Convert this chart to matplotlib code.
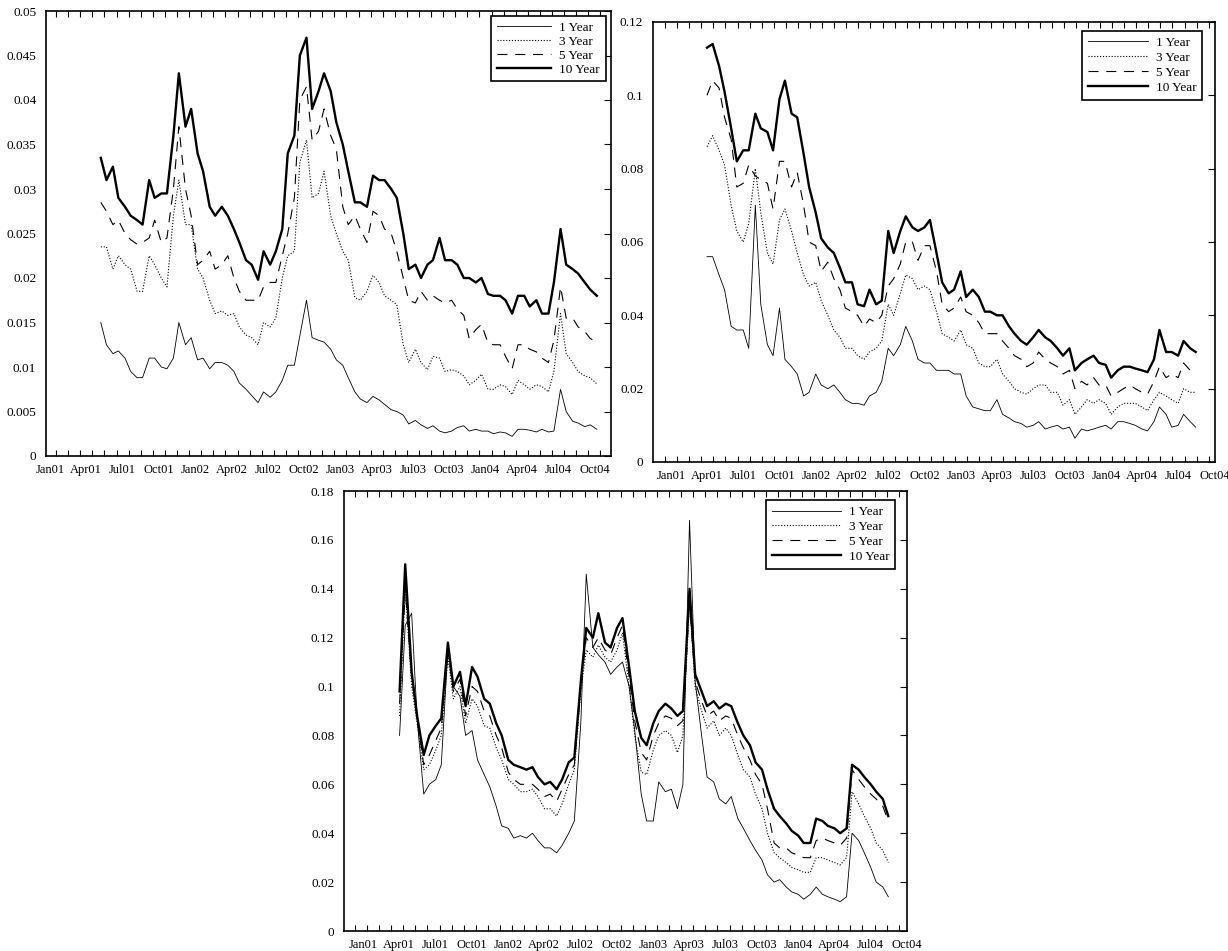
import numpy as np
import pandas as pd
import matplotlib
matplotlib.use('Agg')
import matplotlib.pyplot as plt

plt.rcParams['font.family'] = ['Liberation Serif', 'DejaVu Serif']
plt.rcParams['font.size'] = 9

# Sampling dates: 1st and 15th of every month
dates_a = pd.date_range('2001-04-01', '2004-09-01', freq='SMS')
dates_b = pd.date_range('2001-04-01', '2004-08-15', freq='SMS')

quarter_labels = ['Jan01', 'Apr01', 'Jul01', 'Oct01', 'Jan02', 'Apr02', 'Jul02', 'Oct02',
                  'Jan03', 'Apr03', 'Jul03', 'Oct03', 'Jan04', 'Apr04', 'Jul04', 'Oct04']
series_names = ['1 Year', '3 Year', '5 Year', '10 Year']

# Top left panel
a_1y = [0.0150, 0.0125, 0.0115, 0.0118, 0.011, 0.0095, 0.0088, 0.0088, 0.011, 0.011,
        0.010, 0.0098, 0.011, 0.015, 0.0125, 0.0133, 0.0108, 0.011, 0.0098, 0.0105,
        0.0105, 0.0102, 0.0095, 0.0082, 0.0075, 0.0068, 0.006, 0.0072, 0.0066, 0.0072,
        0.0085, 0.0102, 0.0102, 0.0135, 0.0175, 0.0133, 0.013, 0.0128, 0.012, 0.0108,
        0.0102, 0.0088, 0.0072, 0.0064, 0.006, 0.0067, 0.0063, 0.0058, 0.0052, 0.005,
        0.0046, 0.0036, 0.004, 0.0035, 0.0031, 0.0034, 0.0028, 0.0026, 0.0028, 0.0032,
        0.0034, 0.0028, 0.003, 0.0028, 0.0028, 0.0025, 0.0027, 0.0026, 0.0022, 0.003,
        0.003, 0.0029, 0.0027, 0.003, 0.0027, 0.0028, 0.0075, 0.005, 0.0039, 0.0037,
        0.0033, 0.0035, 0.003]
a_3y = [0.0235, 0.0235, 0.021, 0.0225, 0.0215, 0.021, 0.0185, 0.0185, 0.0225, 0.0215,
        0.020, 0.019, 0.027, 0.031, 0.026, 0.026, 0.021, 0.020, 0.0175, 0.016,
        0.0163, 0.0158, 0.016, 0.0145, 0.0136, 0.0133, 0.0125, 0.015, 0.0145, 0.0155,
        0.020, 0.0225, 0.023, 0.033, 0.0355, 0.029, 0.0295, 0.032, 0.027, 0.025,
        0.023, 0.022, 0.0178, 0.0175, 0.0185, 0.0203, 0.0195, 0.018, 0.0175, 0.017,
        0.0125, 0.0105, 0.012, 0.0105, 0.0097, 0.0112, 0.011, 0.0095, 0.0097, 0.0095,
        0.009, 0.008, 0.0085, 0.0092, 0.0075, 0.0075, 0.008, 0.0078, 0.0069, 0.0085,
        0.008, 0.0075, 0.008, 0.0078, 0.0072, 0.0095, 0.016, 0.0115, 0.0105, 0.0095,
        0.009, 0.0088, 0.0081]
a_5y = [0.0285, 0.0275, 0.026, 0.0265, 0.025, 0.0243, 0.0238, 0.024, 0.0245, 0.0265,
        0.024, 0.0245, 0.030, 0.037, 0.030, 0.027, 0.0215, 0.022, 0.023, 0.021,
        0.0215, 0.0225, 0.020, 0.0185, 0.0175, 0.0175, 0.0175, 0.019, 0.0195, 0.0195,
        0.0225, 0.025, 0.029, 0.040, 0.0415, 0.0355, 0.0365, 0.039, 0.036, 0.0345,
        0.028, 0.026, 0.027, 0.0255, 0.024, 0.0275, 0.027, 0.0255, 0.025, 0.023,
        0.020, 0.0175, 0.0172, 0.0185, 0.0175, 0.018, 0.0175, 0.0172, 0.0175, 0.0165,
        0.0158, 0.0132, 0.0142, 0.0148, 0.0127, 0.0125, 0.0125, 0.0112, 0.0098, 0.0125,
        0.0125, 0.012, 0.0117, 0.011, 0.0105, 0.013, 0.019, 0.0155, 0.0155, 0.0145,
        0.014, 0.0132, 0.0128]
a_10y = [0.0335, 0.031, 0.0325, 0.029, 0.028, 0.027, 0.0265, 0.026, 0.031, 0.029,
         0.0295, 0.0295, 0.036, 0.043, 0.037, 0.039, 0.034, 0.032, 0.028, 0.027,
         0.028, 0.027, 0.0255, 0.024, 0.022, 0.0215, 0.0198, 0.023, 0.0215, 0.023,
         0.0255, 0.034, 0.036, 0.045, 0.047, 0.039, 0.041, 0.043, 0.041, 0.0375,
         0.035, 0.032, 0.0285, 0.0285, 0.028, 0.0315, 0.031, 0.031, 0.030, 0.029,
         0.025, 0.021, 0.0215, 0.020, 0.0215, 0.022, 0.0245, 0.022, 0.022, 0.0215,
         0.020, 0.020, 0.0195, 0.020, 0.0182, 0.018, 0.018, 0.0175, 0.016, 0.018,
         0.018, 0.0168, 0.0175, 0.016, 0.016, 0.0195, 0.0255, 0.0215, 0.021, 0.0205,
         0.0195, 0.0187, 0.018]

# Top right panel
b_1y = [0.056, 0.056, 0.051, 0.047, 0.037, 0.036, 0.036, 0.031, 0.070, 0.043,
        0.032, 0.029, 0.042, 0.028, 0.026, 0.024, 0.018, 0.019, 0.024, 0.021,
        0.020, 0.021, 0.019, 0.017, 0.016, 0.016, 0.0155, 0.018, 0.019, 0.022,
        0.031, 0.029, 0.032, 0.037, 0.033, 0.028, 0.027, 0.027, 0.025, 0.025,
        0.025, 0.024, 0.024, 0.018, 0.015, 0.0145, 0.014, 0.014, 0.017, 0.013,
        0.012, 0.011, 0.0105, 0.0095, 0.010, 0.011, 0.009, 0.0095, 0.010, 0.009,
        0.0095, 0.0065, 0.009, 0.0085, 0.009, 0.0095, 0.010, 0.009, 0.011, 0.011,
        0.0105, 0.010, 0.009, 0.0085, 0.011, 0.015, 0.013, 0.0095, 0.010, 0.013,
        0.011, 0.0095]
b_3y = [0.086, 0.089, 0.085, 0.081, 0.070, 0.063, 0.060, 0.065, 0.080, 0.068,
        0.057, 0.054, 0.066, 0.069, 0.063, 0.057, 0.051, 0.048, 0.049, 0.044,
        0.040, 0.036, 0.034, 0.031, 0.031, 0.029, 0.028, 0.030, 0.031, 0.033,
        0.043, 0.040, 0.046, 0.051, 0.050, 0.047, 0.048, 0.047, 0.041, 0.035,
        0.034, 0.033, 0.036, 0.032, 0.031, 0.027, 0.026, 0.026, 0.028, 0.024,
        0.022, 0.020, 0.019, 0.0185, 0.020, 0.021, 0.021, 0.019, 0.019, 0.0155,
        0.017, 0.013, 0.015, 0.017, 0.016, 0.017, 0.016, 0.013, 0.015, 0.016,
        0.016, 0.016, 0.015, 0.014, 0.017, 0.019, 0.018, 0.017, 0.016, 0.020,
        0.019, 0.019]
b_5y = [0.100, 0.104, 0.102, 0.094, 0.088, 0.075, 0.076, 0.081, 0.078, 0.077,
        0.076, 0.069, 0.082, 0.082, 0.075, 0.079, 0.070, 0.060, 0.059, 0.052,
        0.0545, 0.050, 0.047, 0.042, 0.041, 0.040, 0.037, 0.039, 0.038, 0.040,
        0.048, 0.050, 0.054, 0.060, 0.060, 0.055, 0.059, 0.059, 0.052, 0.043,
        0.041, 0.042, 0.045, 0.041, 0.040, 0.038, 0.035, 0.035, 0.035, 0.033,
        0.031, 0.029, 0.028, 0.026, 0.027, 0.030, 0.028, 0.027, 0.026, 0.024,
        0.025, 0.020, 0.022, 0.021, 0.023, 0.021, 0.021, 0.018, 0.019, 0.020,
        0.021, 0.020, 0.019, 0.0185, 0.022, 0.026, 0.023, 0.024, 0.023, 0.027,
        0.025, 0.025]
b_10y = [0.113, 0.114, 0.108, 0.101, 0.091, 0.082, 0.085, 0.085, 0.095, 0.091,
         0.090, 0.085, 0.099, 0.104, 0.095, 0.094, 0.084, 0.075, 0.068, 0.061,
         0.0585, 0.057, 0.053, 0.049, 0.049, 0.043, 0.0425, 0.047, 0.043, 0.044,
         0.063, 0.057, 0.063, 0.067, 0.064, 0.063, 0.064, 0.066, 0.057, 0.049,
         0.046, 0.047, 0.052, 0.045, 0.047, 0.045, 0.041, 0.041, 0.040, 0.040,
         0.037, 0.035, 0.033, 0.032, 0.034, 0.036, 0.034, 0.033, 0.031, 0.029,
         0.031, 0.025, 0.027, 0.028, 0.029, 0.027, 0.0265, 0.023, 0.025, 0.026,
         0.026, 0.0255, 0.025, 0.0245, 0.028, 0.036, 0.030, 0.030, 0.029, 0.033,
         0.031, 0.030]

# Bottom panel
c_1y = [0.080, 0.125, 0.130, 0.087, 0.056, 0.060, 0.062, 0.068, 0.115, 0.100,
        0.096, 0.080, 0.082, 0.070, 0.064, 0.059, 0.051, 0.043, 0.042, 0.038,
        0.039, 0.038, 0.040, 0.037, 0.034, 0.034, 0.032, 0.035, 0.040, 0.045,
        0.085, 0.146, 0.116, 0.113, 0.110, 0.105, 0.108, 0.110, 0.100, 0.082,
        0.056, 0.045, 0.045, 0.061, 0.057, 0.058, 0.050, 0.060, 0.168, 0.102,
        0.080, 0.063, 0.061, 0.054, 0.052, 0.055, 0.046, 0.042, 0.037, 0.033,
        0.029, 0.023, 0.020, 0.021, 0.018, 0.016, 0.015, 0.013, 0.015, 0.018,
        0.015, 0.014, 0.013, 0.012, 0.014, 0.040, 0.037, 0.032, 0.026, 0.020,
        0.018, 0.014]
c_3y = [0.088, 0.140, 0.100, 0.085, 0.066, 0.068, 0.074, 0.080, 0.112, 0.095,
        0.100, 0.085, 0.095, 0.092, 0.084, 0.083, 0.075, 0.070, 0.062, 0.060,
        0.057, 0.057, 0.058, 0.055, 0.050, 0.050, 0.047, 0.052, 0.060, 0.066,
        0.098, 0.115, 0.112, 0.117, 0.112, 0.110, 0.115, 0.122, 0.100, 0.080,
        0.065, 0.064, 0.074, 0.080, 0.082, 0.080, 0.073, 0.080, 0.135, 0.100,
        0.090, 0.083, 0.086, 0.080, 0.083, 0.080, 0.072, 0.066, 0.063, 0.056,
        0.050, 0.040, 0.032, 0.030, 0.028, 0.026, 0.025, 0.024, 0.024, 0.030,
        0.030, 0.029, 0.028, 0.027, 0.030, 0.057, 0.052, 0.047, 0.042, 0.036,
        0.033, 0.028]
c_5y = [0.093, 0.140, 0.104, 0.087, 0.068, 0.072, 0.078, 0.083, 0.115, 0.098,
        0.103, 0.088, 0.100, 0.098, 0.090, 0.088, 0.080, 0.075, 0.065, 0.062,
        0.060, 0.060, 0.060, 0.058, 0.055, 0.056, 0.053, 0.058, 0.064, 0.068,
        0.100, 0.120, 0.116, 0.120, 0.115, 0.113, 0.120, 0.125, 0.104, 0.086,
        0.073, 0.070, 0.080, 0.085, 0.088, 0.087, 0.084, 0.086, 0.135, 0.102,
        0.094, 0.088, 0.090, 0.086, 0.088, 0.087, 0.080, 0.075, 0.070, 0.064,
        0.060, 0.050, 0.036, 0.034, 0.034, 0.032, 0.031, 0.030, 0.030, 0.037,
        0.038, 0.037, 0.036, 0.035, 0.038, 0.066, 0.062, 0.059, 0.056, 0.054,
        0.051, 0.045]
c_10y = [0.098, 0.150, 0.106, 0.088, 0.072, 0.080, 0.084, 0.087, 0.118, 0.100,
         0.106, 0.092, 0.108, 0.104, 0.095, 0.093, 0.085, 0.080, 0.070, 0.068,
         0.067, 0.066, 0.067, 0.063, 0.060, 0.061, 0.058, 0.062, 0.069, 0.071,
         0.102, 0.124, 0.120, 0.130, 0.118, 0.116, 0.124, 0.128, 0.108, 0.090,
         0.079, 0.076, 0.085, 0.090, 0.093, 0.091, 0.088, 0.090, 0.140, 0.105,
         0.098, 0.092, 0.094, 0.091, 0.093, 0.092, 0.085, 0.080, 0.076, 0.069,
         0.066, 0.058, 0.050, 0.047, 0.044, 0.041, 0.039, 0.036, 0.036, 0.046,
         0.045, 0.043, 0.042, 0.040, 0.042, 0.068, 0.066, 0.063, 0.060, 0.057,
         0.054, 0.047]


def months(dates):
    # months since 1 Jan 2001 as a float
    return np.array([(d.year - 2001) * 12 + d.month - 1 + (d.day - 1) / d.days_in_month
                     for d in dates])


W, H = 1228, 951
fig = plt.figure(figsize=(W / 100, H / 100), dpi=100)

styles = [dict(ls='-', lw=0.6),
          dict(ls=(0, (1, 1.6)), lw=0.8),
          dict(ls=(0, (9, 7)), lw=0.8),
          dict(ls='-', lw=1.7)]

# rect = left, top, right, bottom in pixels
panels = [
    dict(rect=(46, 11, 611, 456), x=months(dates_a), ys=[a_1y, a_3y, a_5y, a_10y],
         xlim=(-1.53, 45.17), tick0=-0.7, lab0=-1.2, ymax=0.05, ystep=0.005,
         leg=(0.991, 0.989), hl=4.1, ls=0.12),
    dict(rect=(653, 22, 1215, 462), x=months(dates_b), ys=[b_1y, b_3y, b_5y, b_10y],
         xlim=(-1.47, 45.05), tick0=-0.47, lab0=0.02, ymax=0.12, ystep=0.02,
         leg=(0.977, 0.98), hl=4.5, ls=0.2),
    dict(rect=(344, 491, 907, 931), x=months(dates_b), ys=[c_1y, c_3y, c_5y, c_10y],
         xlim=(-1.6, 45.0), tick0=-0.69, lab0=-0.03, ymax=0.18, ystep=0.02,
         leg=(0.979, 0.9795), hl=5.2, ls=0.2),
]

for p in panels:
    l, t, r, b = p['rect']
    ax = fig.add_axes([l / W, 1 - b / H, (r - l) / W, (b - t) / H])
    for y, name, st in zip(p['ys'], series_names, styles):
        ax.plot(p['x'], y, color='black', linestyle=st['ls'], linewidth=st['lw'], label=name)

    ax.set_xlim(*p['xlim'])
    ax.set_ylim(0, p['ymax'])

    # quarterly labels (no visible tick), monthly small ticks inside
    ax.set_xticks([p['lab0'] + 3 * j for j in range(len(quarter_labels))])
    ax.set_xticklabels(quarter_labels)
    ax.set_xticks(np.arange(p['tick0'], p['xlim'][1], 1.0), minor=True)
    ax.tick_params(axis='x', which='major', length=0, pad=6)
    ax.tick_params(axis='x', which='minor', direction='in', top=True, bottom=True,
                   length=4, width=0.8)

    yt = np.arange(0, p['ymax'] + p['ystep'] / 2, p['ystep'])
    ax.set_yticks(yt)
    ax.set_yticklabels(['%g' % round(v, 4) for v in yt])
    ax.tick_params(axis='y', direction='in', left=False, right=True, labelleft=True,
                   length=5, width=0.8, pad=7, labelsize=9.5)

    for s in ax.spines.values():
        s.set_linewidth(1.2)

    leg = ax.legend(loc='upper right', bbox_to_anchor=p['leg'], borderaxespad=0,
                    fancybox=False, edgecolor='black', framealpha=1,
                    handlelength=p['hl'], handletextpad=0.6, labelspacing=p['ls'],
                    borderpad=0.45, fontsize=9.5)
    leg.get_frame().set_linewidth(1.2)

fig.savefig('out.png', dpi=100)
